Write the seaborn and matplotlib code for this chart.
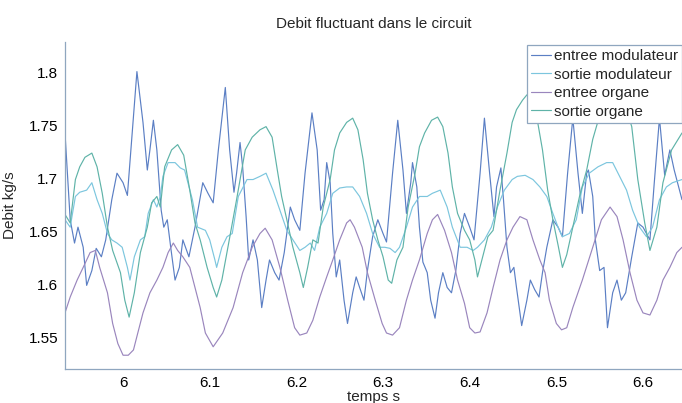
import numpy as np
import pandas as pd
import seaborn as sns
import matplotlib.pyplot as plt

# temps (s) et debit (kg/s)
t_entree_mod = [5.933, 5.939, 5.944, 5.948, 5.954, 5.958, 5.964, 5.969, 5.975, 5.980,
                5.987, 5.993, 6.000, 6.005, 6.010, 6.016, 6.023, 6.028, 6.031, 6.035,
                6.039, 6.044, 6.047, 6.051, 6.055, 6.060, 6.065, 6.069, 6.076, 6.083,
                6.092, 6.098, 6.104, 6.110, 6.118, 6.123, 6.128, 6.131, 6.135, 6.138,
                6.142, 6.145, 6.150, 6.155, 6.160, 6.165, 6.169, 6.175, 6.180, 6.186,
                6.193, 6.198, 6.204, 6.210, 6.218, 6.224, 6.228, 6.232, 6.235, 6.239,
                6.242, 6.246, 6.250, 6.255, 6.259, 6.265, 6.269, 6.273, 6.278, 6.282,
                6.288, 6.294, 6.300, 6.304, 6.311, 6.317, 6.323, 6.327, 6.332, 6.334,
                6.339, 6.342, 6.346, 6.351, 6.355, 6.360, 6.364, 6.369, 6.374, 6.379,
                6.384, 6.389, 6.394, 6.400, 6.405, 6.412, 6.417, 6.423, 6.428, 6.431,
                6.436, 6.439, 6.443, 6.447, 6.451, 6.454, 6.460, 6.466, 6.470, 6.475,
                6.480, 6.484, 6.489, 6.496, 6.502, 6.507, 6.513, 6.519, 6.525, 6.530,
                6.535, 6.537, 6.542, 6.545, 6.550, 6.555, 6.559, 6.565, 6.570, 6.575,
                6.580, 6.587, 6.594, 6.600, 6.608, 6.613, 6.619, 6.625, 6.631, 6.636,
                6.645]
q_entree_mod = [1.743, 1.661, 1.639, 1.654, 1.635, 1.599, 1.613, 1.634, 1.626, 1.642,
                1.680, 1.705, 1.696, 1.684, 1.737, 1.801, 1.753, 1.708, 1.727, 1.755,
                1.727, 1.670, 1.654, 1.661, 1.635, 1.604, 1.616, 1.642, 1.626, 1.654,
                1.696, 1.686, 1.677, 1.727, 1.786, 1.727, 1.687, 1.705, 1.734, 1.711,
                1.664, 1.623, 1.642, 1.623, 1.578, 1.604, 1.623, 1.611, 1.604, 1.630,
                1.673, 1.661, 1.651, 1.705, 1.762, 1.727, 1.670, 1.680, 1.715, 1.696,
                1.648, 1.607, 1.623, 1.585, 1.563, 1.592, 1.607, 1.597, 1.585, 1.613,
                1.645, 1.661, 1.648, 1.640, 1.705, 1.755, 1.708, 1.667, 1.696, 1.715,
                1.692, 1.654, 1.621, 1.611, 1.585, 1.568, 1.592, 1.611, 1.597, 1.592,
                1.613, 1.648, 1.667, 1.654, 1.642, 1.705, 1.757, 1.705, 1.664, 1.692,
                1.710, 1.680, 1.635, 1.611, 1.616, 1.597, 1.561, 1.585, 1.604, 1.595,
                1.588, 1.611, 1.635, 1.661, 1.654, 1.645, 1.705, 1.757, 1.705, 1.667,
                1.705, 1.708, 1.683, 1.642, 1.613, 1.616, 1.559, 1.592, 1.604, 1.585,
                1.592, 1.626, 1.658, 1.654, 1.642, 1.696, 1.757, 1.703, 1.727, 1.708,
                1.680]

t_sortie_mod = [5.933, 5.939, 5.945, 5.950, 5.958, 5.964, 5.970, 5.976, 5.982, 5.987,
                5.993, 5.999, 6.005, 6.008, 6.013, 6.020, 6.025, 6.029, 6.035, 6.039,
                6.043, 6.046, 6.052, 6.060, 6.066, 6.071, 6.080, 6.086, 6.095, 6.100,
                6.106, 6.108, 6.114, 6.120, 6.126, 6.133, 6.143, 6.150, 6.158, 6.165,
                6.173, 6.181, 6.189, 6.196, 6.204, 6.210, 6.216, 6.221, 6.227, 6.235,
                6.242, 6.250, 6.258, 6.265, 6.273, 6.281, 6.288, 6.296, 6.302, 6.308,
                6.314, 6.319, 6.327, 6.334, 6.342, 6.351, 6.357, 6.366, 6.374, 6.380,
                6.389, 6.397, 6.404, 6.409, 6.417, 6.425, 6.432, 6.440, 6.449, 6.455,
                6.464, 6.473, 6.481, 6.489, 6.496, 6.502, 6.507, 6.515, 6.523, 6.530,
                6.538, 6.548, 6.558, 6.565, 6.573, 6.581, 6.588, 6.596, 6.604, 6.611,
                6.619, 6.627, 6.634, 6.645]
q_sortie_mod = [1.661, 1.654, 1.683, 1.687, 1.689, 1.696, 1.680, 1.667, 1.648, 1.642,
                1.639, 1.635, 1.616, 1.604, 1.626, 1.642, 1.645, 1.667, 1.680, 1.673,
                1.683, 1.702, 1.715, 1.715, 1.710, 1.708, 1.680, 1.654, 1.651, 1.642,
                1.623, 1.616, 1.635, 1.645, 1.648, 1.683, 1.699, 1.699, 1.702, 1.705,
                1.689, 1.670, 1.651, 1.642, 1.632, 1.635, 1.639, 1.632, 1.654, 1.667,
                1.686, 1.691, 1.692, 1.692, 1.683, 1.667, 1.648, 1.635, 1.635, 1.634,
                1.630, 1.635, 1.654, 1.673, 1.683, 1.683, 1.686, 1.689, 1.673, 1.654,
                1.635, 1.635, 1.632, 1.635, 1.642, 1.654, 1.673, 1.689, 1.699, 1.702,
                1.703, 1.699, 1.692, 1.683, 1.667, 1.654, 1.645, 1.648, 1.661, 1.692,
                1.705, 1.711, 1.715, 1.715, 1.702, 1.689, 1.670, 1.654, 1.645, 1.654,
                1.680, 1.692, 1.696, 1.699]

t_entree_org = [5.933, 5.939, 5.947, 5.954, 5.962, 5.968, 5.973, 5.982, 5.988, 5.994,
                6.000, 6.006, 6.012, 6.017, 6.023, 6.031, 6.039, 6.046, 6.052, 6.058,
                6.063, 6.069, 6.077, 6.089, 6.095, 6.104, 6.115, 6.127, 6.138, 6.149,
                6.158, 6.164, 6.172, 6.181, 6.190, 6.198, 6.204, 6.212, 6.219, 6.227,
                6.235, 6.242, 6.250, 6.258, 6.262, 6.267, 6.276, 6.282, 6.291, 6.299,
                6.304, 6.311, 6.319, 6.327, 6.334, 6.342, 6.351, 6.357, 6.363, 6.371,
                6.379, 6.386, 6.394, 6.400, 6.406, 6.412, 6.420, 6.427, 6.435, 6.443,
                6.450, 6.458, 6.466, 6.473, 6.481, 6.487, 6.492, 6.500, 6.506, 6.512,
                6.519, 6.530, 6.542, 6.552, 6.562, 6.570, 6.577, 6.585, 6.593, 6.600,
                6.608, 6.616, 6.623, 6.631, 6.639, 6.645]
q_entree_org = [1.573, 1.588, 1.604, 1.616, 1.630, 1.632, 1.616, 1.592, 1.563, 1.544,
                1.533, 1.533, 1.538, 1.554, 1.573, 1.592, 1.604, 1.616, 1.630, 1.639,
                1.632, 1.626, 1.616, 1.578, 1.554, 1.541, 1.554, 1.578, 1.611, 1.635,
                1.648, 1.653, 1.642, 1.616, 1.585, 1.559, 1.552, 1.554, 1.566, 1.588,
                1.607, 1.623, 1.642, 1.658, 1.661, 1.654, 1.635, 1.611, 1.585, 1.563,
                1.554, 1.552, 1.559, 1.585, 1.604, 1.623, 1.648, 1.661, 1.666, 1.651,
                1.630, 1.604, 1.582, 1.559, 1.554, 1.555, 1.573, 1.597, 1.623, 1.642,
                1.654, 1.664, 1.661, 1.642, 1.623, 1.611, 1.585, 1.563, 1.557, 1.559,
                1.578, 1.604, 1.635, 1.661, 1.673, 1.664, 1.642, 1.611, 1.585, 1.573,
                1.571, 1.585, 1.604, 1.616, 1.630, 1.635]

t_sortie_org = [5.933, 5.939, 5.945, 5.950, 5.956, 5.964, 5.970, 5.976, 5.982, 5.988,
                5.997, 6.002, 6.007, 6.013, 6.020, 6.028, 6.033, 6.039, 6.043, 6.048,
                6.056, 6.063, 6.070, 6.077, 6.083, 6.089, 6.097, 6.104, 6.108, 6.114,
                6.121, 6.131, 6.141, 6.149, 6.158, 6.165, 6.172, 6.178, 6.183, 6.189,
                6.196, 6.204, 6.208, 6.213, 6.219, 6.225, 6.231, 6.239, 6.244, 6.250,
                6.258, 6.265, 6.271, 6.277, 6.282, 6.288, 6.294, 6.300, 6.306, 6.310,
                6.316, 6.323, 6.329, 6.337, 6.342, 6.348, 6.356, 6.363, 6.369, 6.375,
                6.380, 6.386, 6.394, 6.400, 6.406, 6.409, 6.415, 6.421, 6.427, 6.435,
                6.443, 6.449, 6.454, 6.461, 6.466, 6.473, 6.477, 6.484, 6.490, 6.496,
                6.502, 6.507, 6.512, 6.519, 6.527, 6.535, 6.542, 6.548, 6.558, 6.567,
                6.579, 6.587, 6.594, 6.602, 6.608, 6.616, 6.623, 6.633, 6.645]
q_sortie_org = [1.666, 1.658, 1.699, 1.711, 1.720, 1.724, 1.711, 1.686, 1.654, 1.632,
                1.611, 1.585, 1.569, 1.592, 1.630, 1.654, 1.677, 1.683, 1.673, 1.711,
                1.727, 1.732, 1.722, 1.689, 1.658, 1.642, 1.616, 1.597, 1.588, 1.604,
                1.635, 1.680, 1.727, 1.739, 1.746, 1.749, 1.739, 1.708, 1.683, 1.661,
                1.635, 1.611, 1.597, 1.616, 1.642, 1.639, 1.673, 1.699, 1.727, 1.743,
                1.753, 1.757, 1.746, 1.718, 1.686, 1.661, 1.642, 1.626, 1.604, 1.601,
                1.623, 1.635, 1.673, 1.705, 1.730, 1.743, 1.755, 1.758, 1.749, 1.724,
                1.692, 1.667, 1.651, 1.642, 1.623, 1.607, 1.626, 1.645, 1.651, 1.689,
                1.724, 1.753, 1.765, 1.774, 1.779, 1.776, 1.760, 1.727, 1.689, 1.661,
                1.637, 1.616, 1.628, 1.654, 1.684, 1.708, 1.737, 1.754, 1.773, 1.777,
                1.770, 1.749, 1.699, 1.658, 1.632, 1.654, 1.696, 1.727, 1.743]

labels = ["entree modulateur", "sortie modulateur", "entree organe", "sortie organe"]
colors = ["#5b7fc4", "#7cc6de", "#9a86bd", "#5fb3a8"]

df = pd.concat([
    pd.DataFrame({"temps": t_entree_mod, "debit": q_entree_mod, "serie": labels[0]}),
    pd.DataFrame({"temps": t_sortie_mod, "debit": q_sortie_mod, "serie": labels[1]}),
    pd.DataFrame({"temps": t_entree_org, "debit": q_entree_org, "serie": labels[2]}),
    pd.DataFrame({"temps": t_sortie_org, "debit": q_sortie_org, "serie": labels[3]}),
], ignore_index=True)

sns.set_style("white")
plt.rcParams['font.family'] = ['Liberation Sans', 'DejaVu Sans']

fig = plt.figure(figsize=(6.82, 4.03), dpi=100)
ax = fig.add_axes([0.0953, 0.0844, 0.9047, 0.8115])

sns.lineplot(data=df, x="temps", y="debit", hue="serie", hue_order=labels,
             palette=dict(zip(labels, colors)), estimator=None, sort=False,
             linewidth=0.85, ax=ax)

ax.set_xlim(5.933, 6.645)
ax.set_ylim(1.52, 1.829)
ax.set_xticks([6.0, 6.1, 6.2, 6.3, 6.4, 6.5, 6.6])
ax.set_xticklabels(["6", "6.1", "6.2", "6.3", "6.4", "6.5", "6.6"])
ax.set_yticks([1.55, 1.6, 1.65, 1.7, 1.75, 1.8])
ax.set_yticklabels(["1.55", "1.6", "1.65", "1.7", "1.75", "1.8"])
ax.tick_params(direction="in", length=4, width=0.8, color="#8fa6bf",
               labelsize=11, labelcolor="black", pad=5)
for side in ["top", "right"]:
    ax.spines[side].set_visible(False)
for side in ["left", "bottom"]:
    ax.spines[side].set_color("#8fa6bf")
    ax.spines[side].set_linewidth(0.9)

ax.set_xlabel("temps s", fontsize=11, labelpad=0)
ax.set_ylabel("Debit kg/s", fontsize=11, labelpad=8)
ax.set_title("Debit fluctuant dans le circuit", fontsize=11, pad=10)

leg = ax.legend(loc="upper left", bbox_to_anchor=(0.749, 0.99), fontsize=11,
                frameon=True, fancybox=False, framealpha=1, edgecolor="#8fa6bf",
                handlelength=1.3, handletextpad=0.2, borderpad=0.25,
                labelspacing=0.3, borderaxespad=0)
leg.get_frame().set_linewidth(0.9)

fig.savefig("out.png", dpi=100)
